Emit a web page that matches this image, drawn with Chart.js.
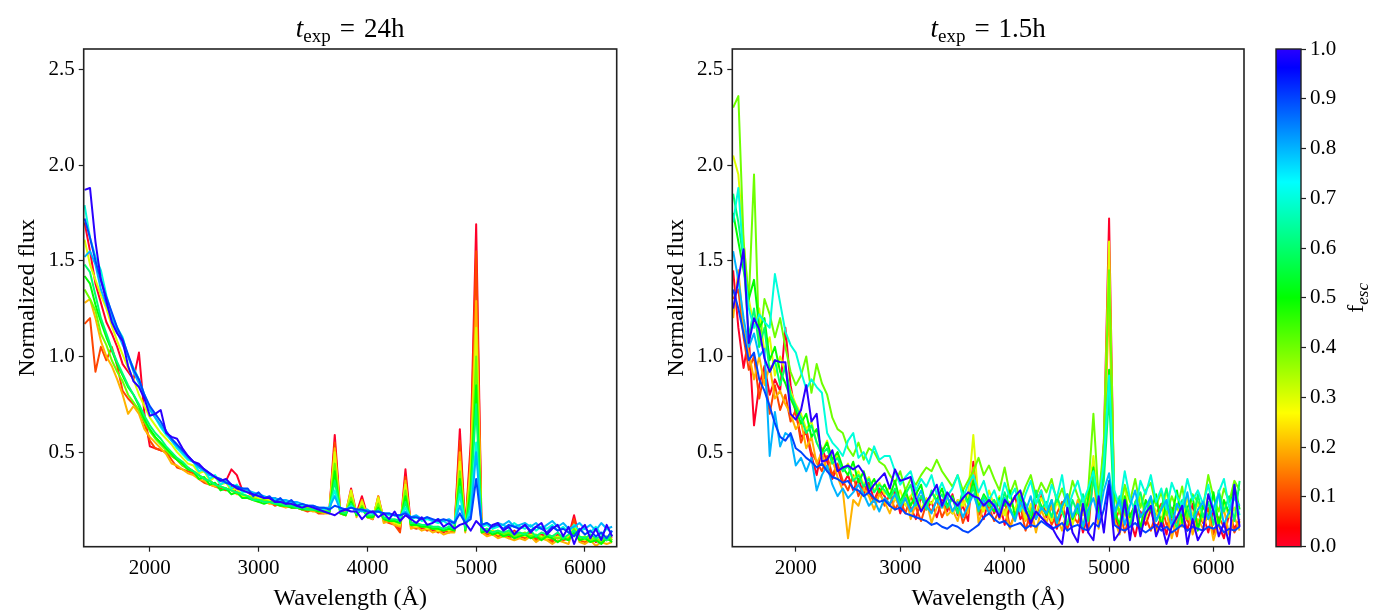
<!DOCTYPE html>
<html>
<head>
<meta charset="utf-8">
<script src="https://cdn.jsdelivr.net/npm/chart.js@4.4.1/dist/chart.umd.min.js"></script>
<style>
  html, body { margin: 0; padding: 0; background: #fff; }
  #wrap { position: relative; width: 1400px; height: 616px; }
  canvas { position: absolute; top: 0; }
</style>
</head>
<body>
<div id="wrap">
  <canvas id="left" width="650" height="616" style="left:0"></canvas>
  <canvas id="right" width="610" height="616" style="left:650px"></canvas>
  <canvas id="cbar" width="138" height="616" style="left:1262px"></canvas>
</div>
<script>
// wavelength grid (Angstrom), shared by both panels
const wavelength = [1400,1450,1500,1550,1600,1650,1700,1750,1800,1850,
  1900,1950,2000,2050,2100,2150,2200,2250,2300,2350,
  2400,2450,2500,2550,2600,2650,2700,2750,2800,2850,
  2900,2950,3000,3050,3100,3150,3200,3250,3300,3350,
  3400,3450,3500,3550,3600,3650,3700,3750,3800,3850,
  3900,3950,4000,4050,4100,4150,4200,4250,4300,4350,
  4400,4450,4500,4550,4600,4650,4700,4750,4800,4850,
  4900,4950,5000,5050,5100,5150,5200,5250,5300,5350,
  5400,5450,5500,5550,5600,5650,5700,5750,5800,5850,
  5900,5950,6000,6050,6100,6150,6200,6250];

const fescValues = [0.0, 0.1, 0.2, 0.3, 0.4, 0.5, 0.6, 0.7, 0.8, 0.9, 1.0];
const xTicks = [2000, 3000, 4000, 5000, 6000];
const yTicks = [0.5, 1.0, 1.5, 2.0, 2.5];
const cbarTicks = [0.0, 0.1, 0.2, 0.3, 0.4, 0.5, 0.6, 0.7, 0.8, 0.9, 1.0];

// ---- t_exp = 24h ----
const f24_00 = [1.70,1.55,1.38,1.28,1.18,1.12,1.05,0.96,0.92,0.88,
  1.02,0.70,0.53,0.52,0.51,0.50,0.48,0.46,0.43,0.42,
  0.40,0.38,0.36,0.35,0.33,0.33,0.35,0.41,0.38,0.30,
  0.29,0.27,0.28,0.26,0.25,0.26,0.24,0.24,0.23,0.22,
  0.22,0.21,0.20,0.21,0.19,0.19,0.59,0.20,0.18,0.31,
  0.18,0.27,0.17,0.15,0.27,0.15,0.14,0.13,0.09,0.41,
  0.12,0.11,0.10,0.12,0.09,0.10,0.08,0.10,0.09,0.62,
  0.10,0.55,1.69,0.10,0.08,0.09,0.07,0.08,0.06,0.09,
  0.07,0.06,0.08,0.05,0.07,0.06,0.04,0.07,0.05,0.06,
  0.17,0.05,0.04,0.06,0.03,0.05,0.04,0.06];
const f24_01 = [1.17,1.20,0.92,1.05,0.98,1.05,0.95,0.82,0.78,0.75,
  0.72,0.65,0.56,0.52,0.51,0.50,0.46,0.42,0.41,0.40,
  0.39,0.36,0.34,0.33,0.32,0.31,0.30,0.32,0.29,0.27,
  0.26,0.26,0.25,0.24,0.24,0.22,0.23,0.22,0.21,0.21,
  0.20,0.19,0.20,0.18,0.18,0.19,0.55,0.18,0.17,0.28,
  0.17,0.24,0.16,0.15,0.24,0.14,0.13,0.12,0.08,0.37,
  0.11,0.10,0.11,0.09,0.10,0.08,0.09,0.08,0.09,0.56,
  0.09,0.50,1.55,0.09,0.07,0.08,0.06,0.07,0.05,0.07,
  0.06,0.05,0.07,0.04,0.06,0.05,0.03,0.06,0.04,0.05,
  0.15,0.04,0.03,0.05,0.04,0.03,0.05,0.04];
const f24_02 = [1.28,1.30,1.20,1.08,1.00,0.95,0.88,0.80,0.70,0.74,
  0.70,0.62,0.58,0.55,0.52,0.49,0.44,0.43,0.41,0.39,
  0.38,0.36,0.35,0.33,0.32,0.32,0.31,0.30,0.28,0.28,
  0.26,0.25,0.24,0.25,0.23,0.23,0.22,0.21,0.22,0.21,
  0.20,0.20,0.19,0.19,0.18,0.18,0.52,0.18,0.17,0.30,
  0.16,0.25,0.16,0.15,0.27,0.13,0.14,0.12,0.11,0.35,
  0.10,0.11,0.09,0.10,0.08,0.09,0.07,0.08,0.08,0.50,
  0.08,0.45,1.29,0.08,0.06,0.07,0.05,0.06,0.05,0.04,
  0.05,0.04,0.06,0.03,0.05,0.04,0.02,0.04,0.03,0.02,
  0.12,0.03,0.02,0.04,0.01,0.03,0.02,0.03];
const f24_03 = [1.61,1.48,1.40,1.32,1.25,1.16,1.08,1.01,0.94,0.88,
  0.80,0.74,0.68,0.64,0.60,0.57,0.54,0.50,0.47,0.44,
  0.43,0.39,0.40,0.35,0.37,0.33,0.34,0.30,0.31,0.27,
  0.27,0.27,0.26,0.25,0.25,0.24,0.23,0.24,0.22,0.22,
  0.21,0.21,0.20,0.20,0.19,0.20,0.50,0.19,0.18,0.30,
  0.17,0.24,0.17,0.16,0.26,0.15,0.15,0.13,0.12,0.33,
  0.12,0.11,0.12,0.10,0.11,0.09,0.10,0.09,0.10,0.45,
  0.10,0.40,1.15,0.09,0.08,0.09,0.07,0.08,0.07,0.08,
  0.07,0.06,0.07,0.06,0.06,0.05,0.05,0.06,0.05,0.06,
  0.12,0.05,0.04,0.06,0.04,0.05,0.04,0.05];
const f24_04 = [1.35,1.30,1.24,1.12,1.06,0.98,0.92,0.87,0.80,0.76,
  0.72,0.66,0.61,0.57,0.54,0.51,0.48,0.46,0.43,0.41,
  0.40,0.38,0.36,0.35,0.33,0.32,0.31,0.30,0.29,0.28,
  0.27,0.26,0.25,0.25,0.24,0.24,0.23,0.23,0.22,0.21,
  0.21,0.21,0.20,0.20,0.19,0.19,0.44,0.19,0.18,0.26,
  0.18,0.22,0.17,0.16,0.23,0.15,0.15,0.14,0.13,0.30,
  0.12,0.13,0.11,0.12,0.10,0.11,0.09,0.10,0.10,0.40,
  0.10,0.35,1.00,0.09,0.10,0.08,0.09,0.07,0.08,0.06,
  0.07,0.08,0.06,0.07,0.05,0.07,0.06,0.05,0.06,0.04,
  0.10,0.05,0.06,0.04,0.05,0.03,0.06,0.04];
const f24_05 = [1.42,1.38,1.27,1.18,1.10,1.03,0.96,0.90,0.84,0.80,
  0.74,0.67,0.62,0.58,0.55,0.52,0.49,0.46,0.44,0.41,
  0.40,0.36,0.37,0.33,0.34,0.30,0.31,0.28,0.29,0.26,
  0.26,0.25,0.24,0.23,0.24,0.23,0.22,0.22,0.21,0.21,
  0.20,0.20,0.20,0.19,0.19,0.18,0.40,0.18,0.17,0.24,
  0.17,0.21,0.16,0.16,0.21,0.15,0.14,0.14,0.13,0.27,
  0.12,0.12,0.11,0.11,0.10,0.10,0.09,0.10,0.09,0.36,
  0.09,0.30,0.85,0.08,0.09,0.07,0.08,0.06,0.07,0.05,
  0.06,0.07,0.05,0.06,0.04,0.06,0.05,0.03,0.05,0.04,
  0.08,0.04,0.05,0.03,0.04,0.02,0.05,0.03];
const f24_06 = [1.48,1.44,1.32,1.20,1.12,1.04,0.97,0.91,0.85,0.80,
  0.75,0.69,0.64,0.60,0.57,0.53,0.50,0.47,0.45,0.42,
  0.40,0.38,0.36,0.35,0.33,0.32,0.31,0.30,0.29,0.28,
  0.27,0.25,0.25,0.24,0.24,0.23,0.23,0.22,0.22,0.21,
  0.21,0.20,0.20,0.20,0.19,0.19,0.35,0.19,0.18,0.23,
  0.18,0.20,0.17,0.17,0.20,0.16,0.15,0.15,0.14,0.24,
  0.13,0.13,0.12,0.12,0.11,0.11,0.10,0.11,0.10,0.32,
  0.10,0.25,0.75,0.09,0.10,0.08,0.09,0.08,0.09,0.07,
  0.08,0.07,0.09,0.06,0.08,0.07,0.06,0.08,0.05,0.07,
  0.09,0.06,0.05,0.07,0.05,0.06,0.04,0.07];
const f24_07 = [1.79,1.62,1.52,1.45,1.32,1.22,1.15,1.10,1.00,0.94,
  0.88,0.80,0.73,0.68,0.63,0.59,0.56,0.52,0.49,0.46,
  0.45,0.40,0.41,0.36,0.38,0.33,0.35,0.31,0.33,0.29,
  0.29,0.28,0.27,0.26,0.26,0.25,0.25,0.24,0.24,0.23,
  0.22,0.22,0.21,0.21,0.20,0.21,0.30,0.20,0.20,0.22,
  0.19,0.20,0.19,0.18,0.19,0.18,0.17,0.17,0.16,0.21,
  0.15,0.16,0.14,0.15,0.14,0.13,0.14,0.12,0.13,0.28,
  0.12,0.20,0.55,0.11,0.12,0.10,0.11,0.12,0.10,0.13,
  0.11,0.10,0.12,0.09,0.11,0.10,0.12,0.09,0.11,0.08,
  0.12,0.09,0.10,0.08,0.11,0.07,0.10,0.08];
const f24_08 = [1.52,1.55,1.48,1.35,1.27,1.20,1.13,1.06,1.00,0.92,
  0.86,0.79,0.72,0.68,0.64,0.60,0.56,0.53,0.50,0.47,
  0.45,0.42,0.40,0.38,0.37,0.35,0.34,0.33,0.32,0.31,
  0.30,0.29,0.28,0.27,0.26,0.26,0.25,0.25,0.24,0.24,
  0.23,0.22,0.22,0.21,0.21,0.21,0.27,0.20,0.20,0.21,
  0.20,0.19,0.20,0.18,0.19,0.18,0.18,0.17,0.17,0.19,
  0.16,0.17,0.15,0.16,0.14,0.15,0.14,0.15,0.13,0.22,
  0.13,0.17,0.50,0.12,0.13,0.11,0.13,0.12,0.14,0.11,
  0.12,0.13,0.11,0.13,0.10,0.12,0.14,0.11,0.13,0.10,
  0.11,0.13,0.10,0.12,0.09,0.13,0.10,0.11];
const f24_09 = [1.72,1.62,1.50,1.40,1.31,1.23,1.15,1.09,1.01,0.93,
  0.88,0.80,0.74,0.70,0.66,0.61,0.57,0.54,0.51,0.48,
  0.45,0.43,0.41,0.39,0.37,0.36,0.34,0.33,0.32,0.31,
  0.31,0.27,0.29,0.26,0.27,0.24,0.26,0.23,0.25,0.22,
  0.23,0.22,0.22,0.21,0.21,0.20,0.22,0.21,0.20,0.21,
  0.20,0.20,0.19,0.19,0.19,0.18,0.18,0.17,0.17,0.18,
  0.16,0.16,0.15,0.16,0.15,0.14,0.15,0.14,0.13,0.18,
  0.13,0.15,0.36,0.12,0.13,0.11,0.12,0.10,0.12,0.11,
  0.10,0.12,0.09,0.11,0.10,0.08,0.11,0.09,0.10,0.08,
  0.06,0.10,0.07,0.09,0.06,0.08,0.05,0.09];
const f24_10 = [1.87,1.88,1.60,1.40,1.29,1.18,1.12,1.08,0.95,0.87,
  0.84,0.78,0.69,0.70,0.72,0.60,0.58,0.57,0.52,0.48,
  0.45,0.44,0.41,0.39,0.37,0.35,0.36,0.33,0.31,0.30,
  0.29,0.28,0.27,0.26,0.26,0.24,0.24,0.23,0.23,0.22,
  0.21,0.22,0.21,0.20,0.19,0.18,0.17,0.19,0.20,0.19,
  0.19,0.15,0.18,0.19,0.16,0.18,0.15,0.19,0.14,0.17,
  0.15,0.13,0.16,0.12,0.13,0.15,0.11,0.13,0.10,0.12,
  0.13,0.09,0.14,0.11,0.08,0.12,0.13,0.09,0.11,0.07,
  0.10,0.12,0.08,0.11,0.13,0.07,0.10,0.12,0.06,0.11,
  0.02,0.09,0.12,0.05,0.10,0.04,0.12,0.06];

// ---- t_exp = 1.5h ----
const f15_00 = [1.45,1.15,0.94,1.10,0.64,0.85,0.95,0.80,0.88,0.82,
  1.15,0.85,0.70,0.58,0.60,0.48,0.38,0.52,0.45,0.36,
  0.42,0.33,0.38,0.30,0.36,0.28,0.34,0.25,0.31,0.27,
  0.22,0.30,0.18,0.26,0.21,0.15,0.27,0.20,0.24,0.16,
  0.25,0.19,0.28,0.17,0.22,0.14,0.45,0.20,0.15,0.26,
  0.18,0.24,0.12,0.21,0.27,0.15,0.19,0.11,0.23,0.30,
  0.16,0.22,0.10,0.19,0.25,0.13,0.20,0.08,0.17,0.45,
  0.14,0.55,1.72,0.18,0.09,0.22,0.15,0.06,0.19,0.12,
  0.20,0.10,0.16,0.07,0.21,0.13,0.18,0.09,0.23,0.11,
  0.17,0.08,0.20,0.12,0.05,0.18,0.10,0.15];
const f15_01 = [1.30,1.35,1.10,0.93,1.00,0.78,0.92,0.70,0.85,0.72,
  0.80,0.66,0.72,0.55,0.62,0.50,0.45,0.40,0.48,0.38,
  0.44,0.35,0.30,0.38,0.27,0.33,0.29,0.24,0.30,0.22,
  0.28,0.20,0.25,0.18,0.27,0.21,0.14,0.23,0.19,0.25,
  0.16,0.22,0.18,0.25,0.13,0.20,0.40,0.17,0.23,0.21,
  0.14,0.20,0.25,0.11,0.18,0.22,0.09,0.19,0.15,0.27,
  0.21,0.12,0.18,0.24,0.10,0.17,0.13,0.22,0.08,0.40,
  0.19,0.48,1.50,0.13,0.20,0.08,0.17,0.22,0.11,0.16,
  0.09,0.18,0.23,0.12,0.15,0.06,0.20,0.14,0.10,0.19,
  0.13,0.21,0.07,0.16,0.11,0.19,0.08,0.14];
const f15_02 = [1.20,1.45,1.15,1.02,0.88,1.00,0.85,0.95,0.78,0.82,
  0.75,0.70,0.62,0.66,0.52,0.58,0.44,0.50,0.40,0.46,
  0.37,0.30,0.05,0.25,0.22,0.31,0.27,0.20,0.28,0.24,
  0.18,0.26,0.21,0.29,0.15,0.23,0.19,0.25,0.13,0.21,
  0.24,0.17,0.20,0.14,0.26,0.18,0.42,0.13,0.22,0.19,
  0.25,0.15,0.20,0.10,0.18,0.24,0.14,0.21,0.08,0.20,
  0.13,0.22,0.16,0.09,0.20,0.14,0.25,0.11,0.18,0.38,
  0.10,0.45,1.30,0.15,0.07,0.19,0.12,0.24,0.09,0.17,
  0.22,0.08,0.14,0.19,0.05,0.16,0.11,0.21,0.07,0.15,
  0.10,0.18,0.04,0.13,0.20,0.07,0.16,0.09];
const f15_03 = [2.05,1.95,1.60,1.30,1.15,1.25,1.02,1.10,0.90,1.00,
  0.92,0.82,0.75,0.70,0.62,0.66,0.55,0.50,0.56,0.45,
  0.48,0.40,0.44,0.36,0.40,0.33,0.37,0.30,0.34,0.28,
  0.32,0.25,0.30,0.22,0.27,0.31,0.20,0.26,0.23,0.29,
  0.21,0.27,0.18,0.25,0.22,0.28,0.59,0.24,0.19,0.30,
  0.22,0.27,0.17,0.24,0.20,0.29,0.15,0.23,0.18,0.26,
  0.20,0.14,0.24,0.18,0.28,0.12,0.22,0.17,0.25,0.48,
  0.20,0.52,1.60,0.16,0.24,0.32,0.14,0.21,0.27,0.15,
  0.25,0.19,0.13,0.30,0.18,0.22,0.12,0.26,0.17,0.23,
  0.14,0.28,0.19,0.11,0.24,0.16,0.21,0.13];
const f15_04 = [2.30,2.36,1.60,1.29,1.95,1.05,1.30,1.22,1.10,1.20,
  1.05,0.92,0.85,0.90,1.00,0.81,0.96,0.86,0.80,0.68,
  0.62,0.60,0.52,0.48,0.55,0.46,0.52,0.50,0.45,0.43,
  0.38,0.34,0.40,0.30,0.36,0.33,0.38,0.42,0.40,0.46,
  0.40,0.36,0.32,0.38,0.30,0.35,0.40,0.47,0.38,0.43,
  0.36,0.30,0.42,0.28,0.35,0.24,0.32,0.38,0.27,0.34,
  0.29,0.36,0.24,0.31,0.22,0.35,0.27,0.20,0.30,0.70,
  0.25,0.55,1.45,0.28,0.18,0.33,0.24,0.36,0.21,0.30,
  0.34,0.22,0.29,0.17,0.27,0.20,0.32,0.15,0.28,0.24,
  0.21,0.38,0.26,0.19,0.31,0.24,0.35,0.30];
const f15_05 = [1.75,1.60,1.45,1.30,1.40,1.15,1.20,0.98,1.05,0.92,
  0.86,0.78,0.72,0.65,0.70,0.58,0.62,0.50,0.55,0.46,
  0.50,0.42,0.38,0.45,0.34,0.40,0.31,0.36,0.29,0.33,
  0.27,0.35,0.24,0.30,0.22,0.28,0.33,0.21,0.29,0.25,
  0.31,0.22,0.27,0.19,0.30,0.24,0.35,0.21,0.28,0.23,
  0.19,0.26,0.22,0.30,0.16,0.25,0.20,0.14,0.28,0.22,
  0.17,0.25,0.13,0.22,0.28,0.15,0.21,0.10,0.26,0.42,
  0.18,0.40,0.93,0.20,0.12,0.27,0.16,0.23,0.10,0.25,
  0.19,0.28,0.11,0.24,0.16,0.30,0.13,0.21,0.27,0.09,
  0.22,0.15,0.29,0.12,0.25,0.18,0.33,0.20];
const f15_06 = [1.85,1.70,1.50,1.10,1.25,1.05,1.15,0.92,0.98,0.85,
  0.95,0.80,0.74,0.68,0.60,0.64,0.55,0.49,0.52,0.44,
  0.47,0.40,0.43,0.35,0.38,0.32,0.36,0.29,0.33,0.30,
  0.26,0.31,0.23,0.28,0.33,0.22,0.27,0.20,0.30,0.24,
  0.28,0.21,0.26,0.18,0.29,0.23,0.32,0.19,0.27,0.22,
  0.25,0.18,0.29,0.21,0.15,0.27,0.23,0.17,0.30,0.20,
  0.24,0.16,0.27,0.19,0.12,0.25,0.18,0.28,0.14,0.36,
  0.22,0.35,0.80,0.15,0.27,0.19,0.11,0.24,0.29,0.17,
  0.26,0.14,0.21,0.31,0.18,0.10,0.25,0.20,0.13,0.28,
  0.16,0.24,0.12,0.30,0.19,0.27,0.14,0.35];
const f15_07 = [1.70,1.88,1.50,1.25,1.15,1.22,1.18,1.15,1.43,1.28,
  1.13,1.06,1.02,0.92,0.83,0.88,0.84,0.81,0.60,0.55,
  0.52,0.48,0.56,0.60,0.47,0.50,0.44,0.53,0.46,0.48,
  0.48,0.40,0.33,0.37,0.40,0.30,0.36,0.32,0.38,0.28,
  0.34,0.27,0.31,0.38,0.26,0.33,0.38,0.29,0.35,0.25,
  0.30,0.22,0.34,0.26,0.31,0.19,0.28,0.35,0.23,0.30,
  0.21,0.33,0.26,0.38,0.20,0.28,0.35,0.24,0.31,0.40,
  0.23,0.45,0.90,0.30,0.22,0.40,0.26,0.19,0.35,0.28,
  0.38,0.24,0.31,0.20,0.34,0.27,0.22,0.36,0.25,0.30,
  0.23,0.33,0.19,0.29,0.36,0.21,0.28,0.17];
const f15_08 = [1.55,1.40,1.20,1.05,1.12,1.00,1.04,0.48,0.71,0.53,
  0.60,0.58,0.43,0.47,0.40,0.47,0.30,0.38,0.43,0.33,
  0.27,0.31,0.26,0.29,0.33,0.28,0.22,0.25,0.19,0.26,
  0.23,0.28,0.21,0.26,0.19,0.24,0.30,0.22,0.18,0.25,
  0.21,0.27,0.19,0.24,0.16,0.22,0.28,0.20,0.25,0.18,
  0.23,0.17,0.26,0.20,0.14,0.24,0.19,0.27,0.15,0.21,
  0.18,0.25,0.13,0.22,0.28,0.16,0.23,0.11,0.20,0.26,
  0.15,0.30,0.39,0.19,0.25,0.12,0.22,0.30,0.16,0.21,
  0.27,0.14,0.20,0.25,0.11,0.23,0.18,0.29,0.13,0.20,
  0.24,0.15,0.21,0.28,0.12,0.19,0.26,0.22];
const f15_09 = [1.35,1.25,1.12,0.98,1.02,0.88,0.82,0.74,0.65,0.58,
  0.56,0.60,0.52,0.50,0.47,0.45,0.42,0.44,0.40,0.37,
  0.36,0.34,0.35,0.31,0.30,0.27,0.29,0.26,0.24,0.25,
  0.22,0.20,0.21,0.18,0.17,0.16,0.15,0.14,0.12,0.13,
  0.11,0.10,0.12,0.11,0.09,0.08,0.10,0.12,0.16,0.18,
  0.15,0.13,0.14,0.11,0.12,0.13,0.10,0.12,0.11,0.14,
  0.12,0.10,0.11,0.13,0.09,0.11,0.12,0.10,0.09,0.13,
  0.11,0.20,0.35,0.12,0.10,0.09,0.11,0.13,0.10,0.08,
  0.10,0.12,0.09,0.11,0.08,0.10,0.12,0.09,0.11,0.10,
  0.09,0.11,0.10,0.12,0.08,0.10,0.09,0.11];
const f15_10 = [1.25,1.40,1.56,1.07,1.20,1.14,0.99,0.92,0.98,0.97,
  0.97,0.70,0.67,0.72,0.85,0.66,0.70,0.45,0.46,0.51,
  0.40,0.42,0.43,0.41,0.43,0.39,0.29,0.33,0.36,0.39,
  0.31,0.41,0.35,0.36,0.37,0.26,0.19,0.24,0.28,0.33,
  0.22,0.29,0.25,0.22,0.26,0.29,0.27,0.26,0.22,0.25,
  0.22,0.16,0.25,0.22,0.27,0.30,0.20,0.13,0.19,0.16,
  0.13,0.11,0.06,0.02,0.21,0.08,0.03,0.23,0.08,0.04,
  0.27,0.08,0.33,0.04,0.08,0.25,0.04,0.22,0.06,0.18,
  0.22,0.06,0.13,0.02,0.11,0.16,0.22,0.02,0.15,0.04,
  0.09,0.28,0.19,0.06,0.13,0.02,0.33,0.11];

const series24h = [f24_00, f24_01, f24_02, f24_03, f24_04, f24_05, f24_06, f24_07, f24_08, f24_09, f24_10];
const series15h = [f15_00, f15_01, f15_02, f15_03, f15_04, f15_05, f15_06, f15_07, f15_08, f15_09, f15_10];

// truncated gist_rainbow colour map used for f_esc
const cmapStops = [
  [0.0, [255, 0, 41]],
  [0.0375, [255, 0, 0]],
  [0.26875, [255, 255, 0]],
  [0.5, [0, 255, 0]],
  [0.7325, [0, 255, 255]],
  [0.9625, [0, 0, 255]],
  [1.0, [42, 0, 255]]
];
function cmap(v) {
  for (let i = 1; i < cmapStops.length; i++) {
    const [p1, c1] = cmapStops[i];
    const [p0, c0] = cmapStops[i - 1];
    if (v <= p1) {
      const t = (v - p0) / (p1 - p0);
      const c = c0.map((a, k) => Math.round(a + (c1[k] - a) * t));
      return `rgb(${c[0]},${c[1]},${c[2]})`;
    }
  }
  return 'rgb(42,0,255)';
}

const FONT = '"Liberation Serif", "Times New Roman", serif';
Chart.defaults.font.family = FONT;
Chart.defaults.color = '#000';

function drawTitle(ctx, cx, baseline, value) {
  const size = 27;
  const parts = [
    { t: 't', font: `italic ${size}px ${FONT}`, dy: 0, gap: 0 },
    { t: 'exp', font: `${Math.round(size * 0.7)}px ${FONT}`, dy: 5, gap: 9 },
    { t: '=', font: `${size}px ${FONT}`, dy: 0, gap: 9 },
    { t: value, font: `${size}px ${FONT}`, dy: 0, gap: 0 }
  ];
  let total = 0;
  parts.forEach(p => { ctx.font = p.font; p.w = ctx.measureText(p.t).width; total += p.w + p.gap; });
  let x = cx - total / 2;
  ctx.textAlign = 'left';
  ctx.textBaseline = 'alphabetic';
  parts.forEach(p => {
    ctx.font = p.font;
    ctx.fillText(p.t, x, baseline + p.dy);
    x += p.w + p.gap;
  });
}

function panelPlugin(titleValue) {
  return {
    id: 'panelText',
    afterDatasetsDraw(chart) {
      const { ctx, chartArea: a } = chart;
      ctx.save();
      ctx.strokeStyle = '#222';
      ctx.lineWidth = 1.6;
      ctx.strokeRect(a.left, a.top, a.right - a.left, a.bottom - a.top);
      ctx.restore();
    },
    afterDraw(chart) {
      const { ctx, chartArea: a } = chart;
      const cx = (a.left + a.right) / 2;
      ctx.save();
      ctx.fillStyle = '#000';
      drawTitle(ctx, cx, 37, titleValue);
      ctx.font = `24px ${FONT}`;
      ctx.textAlign = 'center';
      ctx.textBaseline = 'alphabetic';
      ctx.fillText('Wavelength (Å)', cx, 605);
      ctx.translate(a.left - 56, (a.top + a.bottom) / 2);
      ctx.rotate(-Math.PI / 2);
      ctx.textBaseline = 'middle';
      ctx.fillText('Normalized flux', 0, 0);
      ctx.restore();
    }
  };
}

function makePanel(id, series, titleValue, leftW, rightPad) {
  const datasets = series.map((ys, i) => ({
    data: wavelength.map((x, k) => ({ x: x, y: ys[k] })),
    borderColor: cmap(fescValues[i]),
    borderWidth: 2,
    pointRadius: 0,
    tension: 0,
    borderJoinStyle: 'round',
    order: series.length - i
  }));
  const tickFont = { family: FONT, size: 21 };
  new Chart(document.getElementById(id), {
    type: 'line',
    data: { datasets },
    options: {
      responsive: false,
      animation: false,
      events: [],
      layout: { padding: { left: 0, right: rightPad, top: 49, bottom: 0 } },
      plugins: { legend: { display: false }, tooltip: { enabled: false } },
      scales: {
        x: {
          type: 'linear', min: 1392, max: 6292,
          afterBuildTicks: s => { s.ticks = xTicks.map(v => ({ value: v })); },
          afterFit: s => { s.height = 69.3; s.paddingLeft = 0; s.paddingRight = 0; },
          border: { display: false },
          grid: { drawOnChartArea: false, drawTicks: true, tickLength: 5, tickWidth: 1.2, color: '#222' },
          ticks: { font: tickFont, color: '#000', padding: 4, maxRotation: 0, callback: v => String(v) }
        },
        y: {
          type: 'linear', min: 0.006, max: 2.606,
          afterBuildTicks: s => { s.ticks = yTicks.map(v => ({ value: v })); },
          afterFit: s => { s.width = leftW; s.paddingTop = 0; s.paddingBottom = 0; },
          border: { display: false },
          grid: { drawOnChartArea: false, drawTicks: true, tickLength: 5, tickWidth: 1.2, color: '#222' },
          ticks: { font: tickFont, color: '#000', padding: 4, callback: v => v.toFixed(1) }
        }
      }
    },
    plugins: [panelPlugin(titleValue)]
  });
}

makePanel('left', series24h, '24h', 83.7, 33.3);
makePanel('right', series15h, '1.5h', 82.3, 16);

// colour bar
const cbarPlugin = {
  id: 'cbar',
  beforeDatasetsDraw(chart) {
    const { ctx, chartArea: a } = chart;
    const g = ctx.createLinearGradient(0, a.bottom, 0, a.top);
    cmapStops.forEach(([p]) => g.addColorStop(p, cmap(p)));
    ctx.save();
    ctx.fillStyle = g;
    ctx.fillRect(a.left, a.top, a.right - a.left, a.bottom - a.top);
    ctx.strokeStyle = '#222';
    ctx.lineWidth = 1.4;
    ctx.strokeRect(a.left, a.top, a.right - a.left, a.bottom - a.top);
    ctx.restore();
  },
  afterDraw(chart) {
    const { ctx, chartArea: a } = chart;
    ctx.save();
    ctx.fillStyle = '#000';
    ctx.translate(93, (a.top + a.bottom) / 2);
    ctx.rotate(-Math.PI / 2);
    ctx.textBaseline = 'alphabetic';
    ctx.font = `24px ${FONT}`;
    const wf = ctx.measureText('f').width;
    ctx.font = `italic 17px ${FONT}`;
    const ws = ctx.measureText('esc').width;
    const x0 = -(wf + ws) / 2;
    ctx.font = `24px ${FONT}`;
    ctx.fillText('f', x0, 8);
    ctx.font = `italic 17px ${FONT}`;
    ctx.fillText('esc', x0 + wf, 13);
    ctx.restore();
  }
};

new Chart(document.getElementById('cbar'), {
  type: 'scatter',
  data: { datasets: [] },
  options: {
    responsive: false,
    animation: false,
    events: [],
    layout: { padding: { left: 14, right: 0, top: 49, bottom: 69.3 } },
    plugins: { legend: { display: false }, tooltip: { enabled: false } },
    scales: {
      x: { display: false, min: 0, max: 1 },
      y: {
        position: 'right', min: 0, max: 1,
        afterBuildTicks: s => { s.ticks = cbarTicks.map(v => ({ value: v })); },
        afterFit: s => { s.width = 99; s.paddingTop = 0; s.paddingBottom = 0; },
        border: { display: false },
        grid: { drawOnChartArea: false, drawTicks: true, tickLength: 5, tickWidth: 1.2, color: '#222' },
        ticks: { font: { family: FONT, size: 21 }, color: '#000', padding: 4, callback: v => v.toFixed(1) }
      }
    }
  },
  plugins: [cbarPlugin]
});
</script>
</body>
</html>
